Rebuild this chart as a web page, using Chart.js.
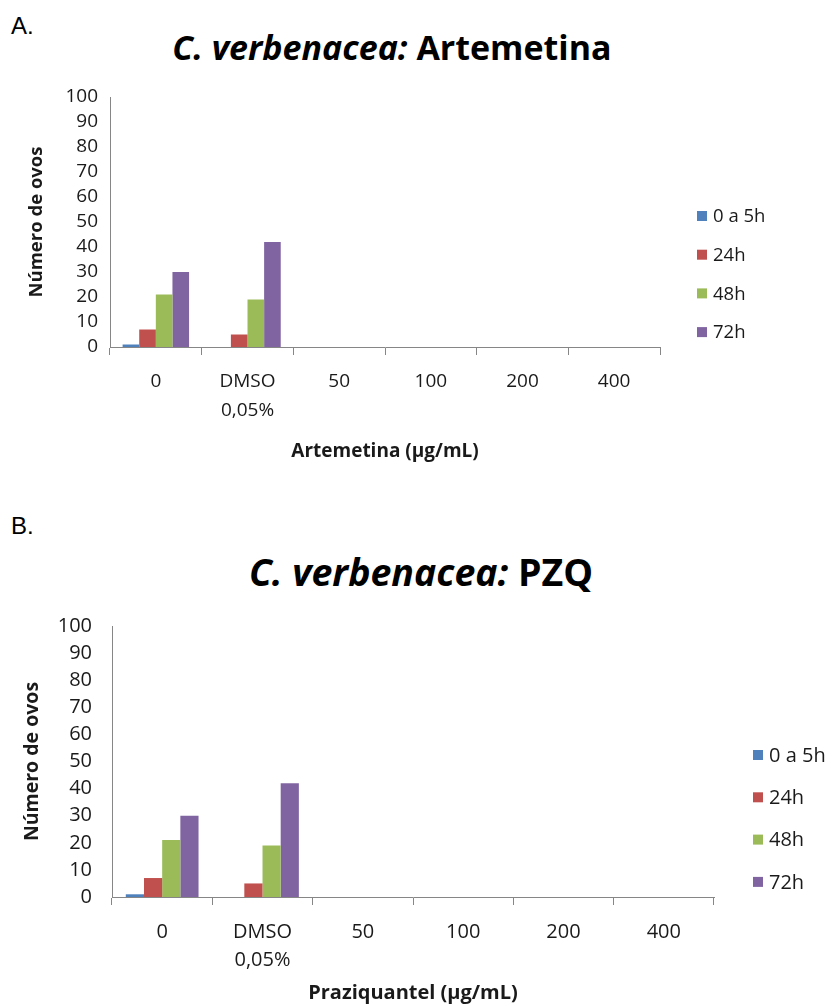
<!DOCTYPE html>
<html><head><meta charset="utf-8">
<script src="https://cdn.jsdelivr.net/npm/chart.js@4.4.1/dist/chart.umd.min.js"></script>
<style>
body{margin:0;background:#fff;width:835px;height:1006px;overflow:hidden;position:relative;}
.panel{position:absolute;left:0;width:835px;}
.letter{position:absolute;font-family:"Liberation Sans",Arial,sans-serif;font-size:24px;color:#000;line-height:1;}
.title{position:absolute;text-align:center;font-family:"Open Sans",sans-serif;font-weight:bold;color:#000;white-space:nowrap;line-height:1;}
</style></head>
<body>
<div class="letter" style="left:11px;top:14px">A.</div>
<div class="title" style="left:92px;width:600px;top:30px;font-size:34px"><i>C. verbenacea:</i> Artemetina</div>
<div class="panel" style="top:0;height:500px"><canvas id="cA" width="835" height="500"></canvas></div>
<div class="letter" style="left:11px;top:514px">B.</div>
<div class="title" style="left:121px;width:600px;top:553px;font-size:37.5px"><i>C. verbenacea:</i> PZQ</div>
<div class="panel" style="top:500px;height:506px"><canvas id="cB" width="835" height="506"></canvas></div>
<script>
// ---- data ----
const categories = ['0', ['DMSO', '0,05%'], '50', '100', '200', '400'];
const seriesNames = ['0 a 5h', '24h', '48h', '72h'];
const seriesColors = ['#4F81BD', '#C0504D', '#9BBB59', '#8064A2'];
const yTicks = [0, 10, 20, 30, 40, 50, 60, 70, 80, 90, 100];

// Panel A: Artemetina
const artemetina_0a5h = [1, 0, 0, 0, 0, 0];
const artemetina_24h  = [7, 5, 0, 0, 0, 0];
const artemetina_48h  = [21, 19, 0, 0, 0, 0];
const artemetina_72h  = [30, 42, 0, 0, 0, 0];

// Panel B: Praziquantel
const pzq_0a5h = [1, 0, 0, 0, 0, 0];
const pzq_24h  = [7, 5, 0, 0, 0, 0];
const pzq_48h  = [21, 19, 0, 0, 0, 0];
const pzq_72h  = [30, 42, 0, 0, 0, 0];

const TEXT = '#1a1a1a';
const AXIS = '#868686';
const FONT = '"Open Sans", sans-serif';

const legendPlugin = {
  id: 'sideLegend',
  afterDraw(chart, args, o) {
    const ctx = chart.ctx;
    const ca = chart.chartArea;
    ctx.save();
    ctx.font = o.size + 'px ' + FONT;
    ctx.textBaseline = 'middle';
    ctx.textAlign = 'left';
    chart.data.datasets.forEach((ds, i) => {
      const y = o.top + i * o.gap;
      const x = ca.right + o.dx;
      ctx.fillStyle = ds.backgroundColor;
      ctx.fillRect(x, y - 5, 10, 10);
      ctx.fillStyle = TEXT;
      ctx.fillText(ds.label, x + 16, y + 1);
    });
    ctx.restore();
  }
};

function makeChart(id, values, xTitle, g) {
  new Chart(document.getElementById(id), {
    type: 'bar',
    data: {
      labels: categories,
      datasets: seriesNames.map((n, i) => ({
        label: n,
        data: values[i],
        backgroundColor: seriesColors[i],
        borderWidth: 0,
        categoryPercentage: 0.725,
        barPercentage: 1.0
      }))
    },
    options: {
      responsive: false,
      animation: false,
      layout: { padding: { left: g.padL, right: g.padR, top: g.padT, bottom: g.padB } },
      plugins: {
        legend: { display: false },
        tooltip: { enabled: false },
        sideLegend: g.legend
      },
      scales: {
        x: {
          grid: { display: true, drawOnChartArea: false, drawTicks: true, tickLength: 8, color: AXIS, offset: true },
          border: { display: true, color: AXIS, width: 1 },
          ticks: { color: TEXT, font: { family: FONT, size: g.tick, lineHeight: g.tickLH }, padding: g.xPad, maxRotation: 0, autoSkip: false },
          title: { display: true, text: xTitle, color: TEXT, font: { family: FONT, size: g.xTitle, weight: 'bold', lineHeight: 1.2 }, padding: { top: 4, bottom: g.xTitlePadB } },
          afterFit: s => { s.height = g.xH; }
        },
        y: {
          min: 0, max: 100,
          afterBuildTicks: s => { s.ticks = yTicks.map(v => ({ value: v })); },
          grid: { display: false, drawTicks: false },
          border: { display: true, color: AXIS, width: 1 },
          ticks: { color: TEXT, font: { family: FONT, size: g.tick }, padding: g.yPad, autoSkip: false },
          title: { display: true, text: 'Número de ovos', color: TEXT, font: { family: FONT, size: g.yTitle, weight: 'bold', lineHeight: 1.2 }, padding: { top: 4, bottom: 4 } },
          afterFit: s => { s.width = g.yW; }
        }
      }
    },
    plugins: [legendPlugin]
  });
}

makeChart('cA', [artemetina_0a5h, artemetina_24h, artemetina_48h, artemetina_72h], 'Artemetina (µg/mL)', {
  padL: 22, padR: 175, padT: 97, padB: 34, yW: 88, xH: 119, tick: 19, tickLH: 1.53, xPad: 12,
  yPad: 12, xTitle: 19, yTitle: 18.5, xTitlePadB: 3,
  legend: { dx: 37, top: 216, gap: 38.7, size: 18.5 }
});
makeChart('cB', [pzq_0a5h, pzq_24h, pzq_48h, pzq_72h], 'Praziquantel (µg/mL)', {
  padL: 17, padR: 121, padT: 126, padB: 1, yW: 95, xH: 108, tick: 20, tickLH: 1.4, xPad: 13,
  yPad: 20, xTitle: 20, yTitle: 19.5, xTitlePadB: 0,
  legend: { dx: 39, top: 255, gap: 42.3, size: 20 }
});
</script>
</body></html>
